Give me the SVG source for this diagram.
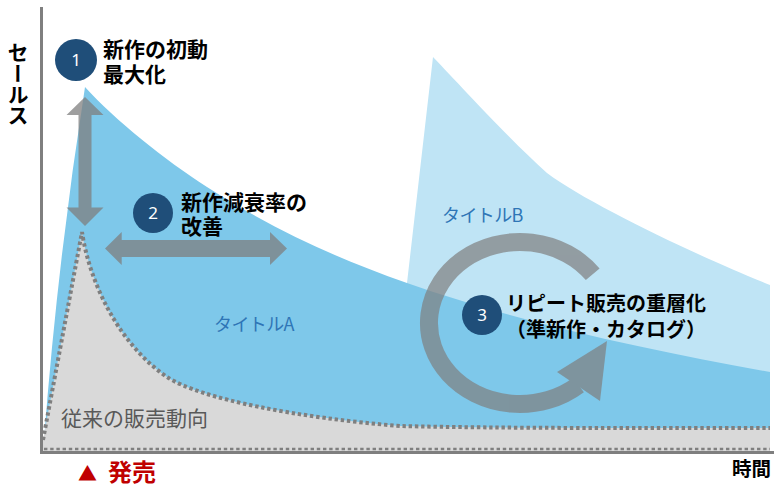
<svg xmlns="http://www.w3.org/2000/svg" width="774" height="489" viewBox="0 0 774 489">
<style>
.lbl{font-family:"Noto Sans CJK JP","Noto Sans",sans-serif;font-weight:700;fill:#000;}
.ttl{font-family:"Noto Sans CJK JP","Noto Sans",sans-serif;font-weight:400;fill:#2e75b6;}
.num{font-family:"Noto Sans","Noto Sans CJK JP",sans-serif;font-size:17px;fill:#fff;text-anchor:middle;}
.badge{fill:#1f4e79;}
.dot{fill:none;stroke:#7f7f7f;stroke-dasharray:3.4 2.8;}
.arr{fill:#7f7f7f;}
</style>
<rect width="774" height="489" fill="#fff"/>
<g id="title-b-area">
<path d="M407,283 L433,57 C460,85 510,140 547,173 C590,205 700,257 770,285 L770,400 L405,300 Z" fill="#bfe4f5"/>
</g>
<g id="title-a-area">
<path d="M44,440 Q57.5,262 85,87 C115,120 165,160 207,187 C274,230 337,258.5 407,283 C527,325 654,351 770,372 L770,452 L44,452 Z" fill="#7ec8ea"/>
</g>
<g id="conventional-area">
<path d="M43,440 L82,232 C90,285 120,345 167,377 C200,399 300,418 400,426 C500,428.5 650,428 770,428 L770,452 L43,452 Z" fill="#d9d9d9"/>
<path class="dot" d="M43,440 L82,232 C90,285 120,345 167,377 C200,399 300,418 400,426 C500,428.5 650,428 770,428" stroke-width="4"/>
<path class="dot" d="M44,449 L770,449" stroke-width="2.6"/>
</g>
<g id="axes" stroke="#7f7f7f" stroke-width="3" fill="none">
<line x1="41.5" y1="7" x2="41.5" y2="454"/>
<line x1="40" y1="452.5" x2="774" y2="452.5"/>
</g>
<g id="connectors">
<g id="arrow-vertical" opacity="0.75">
<polygon class="arr" points="85,97 103.5,115 91.5,115 91.5,207.5 103.5,207.5 85,226 66.5,207.5 78.5,207.5 78.5,115 66.5,115"/>
</g>
<g id="arrow-horizontal" opacity="0.75">
<polygon class="arr" points="105,248.5 121.7,232 121.7,240 270,240 270,232 287,248.5 270,265 270,257 121.7,257 121.7,265"/>
</g>
<g id="arrow-circular" opacity="0.7">
<path d="M592.7,274.3 A91,81 0 1 0 578.5,385" fill="none" stroke="#7f7f7f" stroke-width="18"/>
<polygon class="arr" points="607,341 557,372 600,401"/>
</g>
</g>
<g id="node-1">
<circle class="badge" cx="76" cy="60" r="21"/>
<text class="num" x="76" y="66">1</text>
<text class="lbl" font-size="21"><tspan x="103" y="56.5">新作の初動</tspan><tspan x="103" y="81.5">最大化</tspan></text>
</g>
<g id="node-2">
<circle class="badge" cx="153" cy="213" r="20"/>
<text class="num" x="153" y="219">2</text>
<text class="lbl" font-size="21"><tspan x="181" y="209.5">新作減衰率の</tspan><tspan x="181" y="233.5">改善</tspan></text>
</g>
<g id="node-3">
<circle class="badge" cx="482" cy="315" r="20"/>
<text class="num" x="482" y="321">3</text>
<text class="lbl" font-size="20"><tspan x="506" y="310.5">リピート販売の重層化</tspan><tspan x="506" y="336.5">（準新作・カタログ）</tspan></text>
</g>
<g id="node-title-a">
<text class="ttl" x="214" y="331" font-size="18" letter-spacing="-0.6">タイトルA</text>
</g>
<g id="node-title-b">
<text class="ttl" x="442" y="222" font-size="18" letter-spacing="-0.6">タイトルB</text>
</g>
<g id="node-conventional">
<text x="61" y="425.5" font-size="21" font-family="Noto Sans CJK JP, Noto Sans, sans-serif" fill="#595959">従来の販売動向</text>
</g>
<g id="node-y-axis-label">
<text class="lbl" x="18" y="42" font-size="21" style="writing-mode:vertical-rl">セールス</text>
</g>
<g id="node-x-axis-label">
<text class="lbl" x="732" y="476" font-size="19.5">時間</text>
</g>
<g id="node-launch">
<text font-family="Noto Sans CJK JP, Noto Sans, sans-serif" font-weight="700" fill="#c00000"><tspan x="78" y="481" font-size="19">▲</tspan> <tspan x="108" y="481" font-size="24">発売</tspan></text>
</g>
</svg>
